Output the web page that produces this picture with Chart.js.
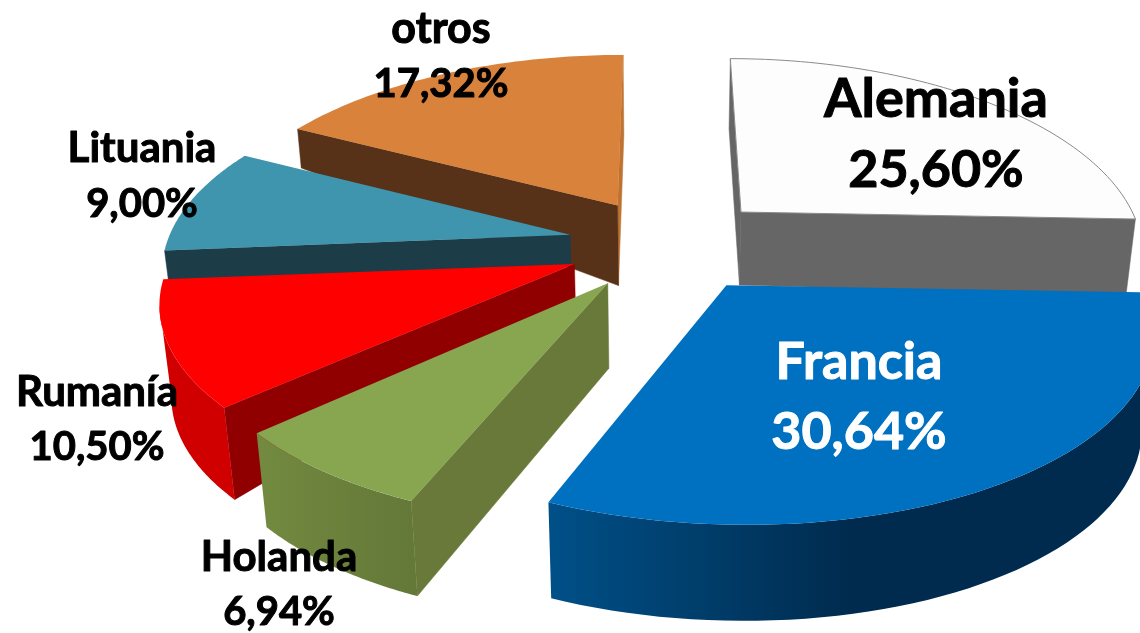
<!DOCTYPE html>
<html><head><meta charset="utf-8">
<script src="https://cdn.jsdelivr.net/npm/chart.js@4"></script>
<style>html,body{margin:0;padding:0;background:#fff;overflow:hidden}canvas{display:block}</style>
</head><body><canvas id="c" width="1140" height="633"></canvas>
<script>
const categories = ['Alemania','Francia','Holanda','Rumanía','Lituania','otros'];
const values = [25.60,30.64,6.94,10.50,9.00,17.32];
const valueLabels = ['25,60%','30,64%','6,94%','10,50%','9,00%','17,32%'];
const topColors = ['#fdfdfd','#0070c0','#88a550','#ff0000','#4095ae','#d8823c'];
const wallColors = ['#666666','#003a66','#68793a','#900000','#1c3c48','#573218'];
const endWallColors = ['#666666','#003a66','#68793a','#900000','#1c3c48','#bf7330'];
const rimStops = [['#666666','#666666'],['#005088','#002b4e','#002b4e'],['#738a40','#647838'],['#d00000','#d00000'],['#1c3c48','#1c3c48'],['#573218','#573218']];
const explode = [66,60,60,56,56,66];
const nudgeX = [16,19,-2,-12,-13,4];
const nudgeY = [-9,1,0,-1,-8,-9];
const adjSx = [1.01,1.0,.98,.997,1.009,1.032];
const adjSy = [1.055,.955,.96,.96,1.02,1.05];
const adjK = [0,.03,.031,.05,.093,.0157];
const depthApex = [73,96,85,35,31,80];
const depthStart = [70,96,95,92,31,39];
const depthEnd = [77,96,94,92,31,80];
const drawOrder = [0,5,4,3,2,1];
const labelX = [936,859,279,97,142,441];
const labelY1 = [100,362,557,392,148,29];
const labelY2 = [170,432,612,447,204,84];
const nameSize = [54,52,42,42,42,43];
const valueSize = [52,52,40,40,40,40];
const labelColor = ['#000','#fff','#000','#000','#000','#000'];
const cam = {cx:660,cy:250,ax:400,ay:185,p:0.2,lean:0.00026};

function project(X,Y){const w=1+cam.p*Y;return {x:cam.cx+cam.ax*X/w,y:cam.cy-cam.ay*Y/w};}
const pie3d = {
  id:'pie3d',
  beforeDatasetsDraw(chart){
    const ctx=chart.ctx, arcs=chart.getDatasetMeta(0).data;
    const drop=(p,d)=>({x:p.x+(cam.cx-p.x)*cam.lean*d,y:p.y+d});
    const poly=(pts)=>{ctx.beginPath();pts.forEach((q,i)=>i?ctx.lineTo(q.x,q.y):ctx.moveTo(q.x,q.y));ctx.closePath();};
    for(const i of drawOrder){
      const a=arcs[i], s=a.startAngle, e=a.endAngle, R=a.outerRadius, off=a.options.offset/R, mid=(s+e)/2;
      const ox=off*Math.cos(mid), oy=-off*Math.sin(mid);
      const apex0=project(ox,oy);
      const adj=q=>{const dx=q.x-apex0.x,dy=q.y-apex0.y;return {x:apex0.x+nudgeX[i]+adjSx[i]*dx+adjK[i]*dy,y:apex0.y+nudgeY[i]+adjSy[i]*dy};};
      const apex=adj(apex0), rim=[], N=60;
      for(let k=0;k<=N;k++){const t=s+(e-s)*k/N;rim.push(adj(project(ox+Math.cos(t),oy-Math.sin(t))));}
      const dR=k=>depthStart[i]+(depthEnd[i]-depthStart[i])*k/N;
      const wall=(p,dp,q,dq,col)=>{ if(q.x<p.x){poly([p,q,drop(q,dq),drop(p,dp)]);ctx.fillStyle=col;ctx.strokeStyle=col;ctx.lineWidth=.5;ctx.fill();ctx.stroke();} };
      wall(rim[N],dR(N),apex,depthApex[i],endWallColors[i]);
      wall(apex,depthApex[i],rim[0],dR(0),wallColors[i]);
      const run=[];for(let k=0;k<N;k++){if(rim[k+1].x<rim[k].x){if(!run.length)run.push(k);run.push(k+1);}}
      if(run.length){
        const topE=run.map(k=>rim[k]), botE=run.map(k=>drop(rim[k],dR(k))).reverse();
        const xs=topE.map(q=>q.x), g=ctx.createLinearGradient(Math.min(...xs),0,Math.max(...xs),0);
        rimStops[i].forEach((c,j,l)=>g.addColorStop(j/(l.length-1),c));
        poly(topE.concat(botE));ctx.fillStyle=g;ctx.fill();
      }
      poly([apex,...rim]);ctx.fillStyle=topColors[i];ctx.fill();
      if(i===0){ctx.strokeStyle='#8a8a8a';ctx.lineWidth=1;ctx.stroke();}
    }
    return false;
  },
  afterDraw(chart){
    const ctx=chart.ctx;ctx.save();ctx.textAlign='center';ctx.textBaseline='middle';ctx.lineJoin='round';
    categories.forEach((c,i)=>{ctx.fillStyle=labelColor[i];ctx.strokeStyle=labelColor[i];ctx.lineWidth=1;
      ctx.font='700 '+nameSize[i]+'px Lato';
      ctx.fillText(c,labelX[i],labelY1[i]);ctx.strokeText(c,labelX[i],labelY1[i]);
      ctx.font='700 '+valueSize[i]+'px Lato';
      ctx.fillText(valueLabels[i],labelX[i],labelY2[i]);ctx.strokeText(valueLabels[i],labelX[i],labelY2[i]);});
    ctx.restore();
  }
};
new Chart(document.getElementById('c'),{type:'pie',
  data:{labels:categories,datasets:[{data:values,backgroundColor:topColors,offset:explode,borderWidth:0}]},
  options:{responsive:false,animation:false,rotation:0,layout:{padding:0},plugins:{legend:{display:false},tooltip:{enabled:false}}},
  plugins:[pie3d]});
</script></body></html>
